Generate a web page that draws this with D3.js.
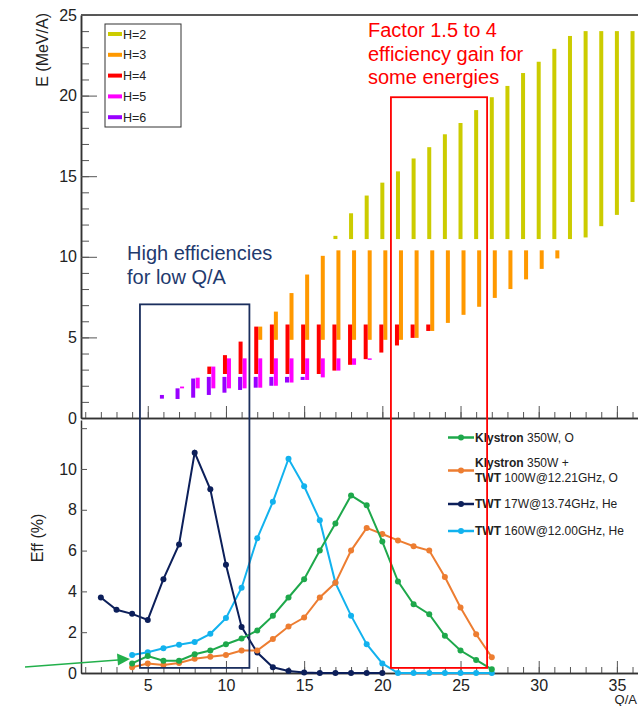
<!DOCTYPE html>
<html>
<head>
<meta charset="utf-8">
<script src="https://cdn.jsdelivr.net/npm/d3@7"></script>
<style>
  body { margin: 0; background: #fff; }
  svg { display: block; font-family: 'Liberation Sans', Arial, sans-serif; }
</style>
</head>
<body>
<div id="viz"></div>
<script>
const width = 638;
const height = 706;
const plotLeft = 81;
const plotRight = 638;

// Top panel: energy ranges (MeV/A) per charge state Q, one set per harmonic
const h2Q  = [17, 18, 19, 20, 21, 22, 23, 24, 25, 26, 27, 28, 29, 30, 31, 32, 33, 34, 35, 36];
const h2Lo = [11.1, 11.1, 11.1, 11.1, 11.1, 11.1, 11.1, 11.1, 11.1, 11.1, 11.1, 11.1, 11.1, 11.1, 11.1, 11.1, 11.2, 11.9, 12.6, 13.4];
const h2Hi = [11.3, 12.7, 13.8, 14.6, 15.3, 16.1, 16.8, 17.6, 18.3, 19.1, 19.9, 20.6, 21.4, 22.1, 22.9, 23.7, 24.0, 24.0, 24.0, 24.0];

const h3Q  = [12, 13, 14, 15, 16, 17, 18, 19, 20, 21, 22, 23, 24, 25, 26, 27, 28, 29, 30, 31];
const h3Lo = [4.85, 4.85, 4.85, 4.85, 4.85, 4.85, 4.85, 4.85, 4.85, 4.85, 4.97, 5.4, 5.9, 6.4, 6.9, 7.45, 8.0, 8.6, 9.25, 9.9];
const h3Hi = [5.67, 6.6, 7.75, 8.9, 10.06, 10.4, 10.4, 10.4, 10.4, 10.4, 10.4, 10.4, 10.4, 10.4, 10.4, 10.4, 10.4, 10.4, 10.4, 10.4];

const h4Q  = [9, 10, 11, 12, 13, 14, 15, 16, 17, 18, 19, 20, 21, 22, 23];
const h4Lo = [2.73, 2.73, 2.73, 2.73, 2.73, 2.73, 2.73, 2.73, 2.94, 3.3, 3.65, 4.06, 4.5, 4.97, 5.4];
const h4Hi = [3.19, 3.9, 4.74, 5.67, 5.8, 5.8, 5.8, 5.8, 5.8, 5.8, 5.8, 5.8, 5.8, 5.8, 5.8];

const h5Q  = [7, 8, 9, 10, 11, 12, 13, 14, 15, 16, 17, 18, 19];
const h5Lo = [1.84, 1.84, 1.84, 1.84, 1.84, 1.88, 2.0, 2.2, 2.36, 2.52, 2.94, 3.3, 3.62];
const h5Hi = [1.95, 2.5, 3.19, 3.7, 3.7, 3.7, 3.7, 3.7, 3.7, 3.7, 3.7, 3.7, 3.7];

const h6Q  = [6, 7, 8, 9, 10, 11, 12, 13, 14, 15];
const h6Lo = [1.2, 1.18, 1.26, 1.43, 1.57, 1.74, 1.88, 2.0, 2.2, 2.36];
const h6Hi = [1.43, 1.84, 2.45, 2.55, 2.55, 2.55, 2.55, 2.55, 2.55, 2.55];

// Bottom panel: efficiency (%) per Q
const twt17Q = [2, 3, 4, 5, 6, 7, 8, 9, 10, 11, 12, 13, 14, 15, 16, 17, 18, 19, 20];
const twt17Eff = [3.7, 3.1, 2.9, 2.6, 4.6, 6.3, 10.8, 9.0, 5.3, 2.26, 1.0, 0.28, 0.1, 0.03, 0, 0, 0, 0, 0];

const effQ = [4, 5, 6, 7, 8, 9, 10, 11, 12, 13, 14, 15, 16, 17, 18, 19, 20, 21, 22, 23, 24, 25, 26, 27];
const klystronEff = [0.47, 0.83, 0.6, 0.6, 0.92, 1.1, 1.41, 1.69, 2.08, 2.8, 3.7, 4.6, 6.0, 7.33, 8.7, 8.22, 6.44, 4.49, 3.37, 2.88, 1.82, 1.1, 0.64, 0.18];
const klyTwtEff = [0.28, 0.47, 0.39, 0.49, 0.7, 0.8, 0.88, 1.1, 1.1, 1.67, 2.28, 2.72, 3.7, 4.42, 6.0, 7.11, 6.81, 6.5, 6.21, 6.0, 4.7, 3.21, 1.9, 0.77];
const twt160Eff = [0.88, 1.02, 1.21, 1.39, 1.52, 1.92, 2.69, 4.18, 6.6, 8.39, 10.5, 9.15, 7.49, 4.42, 2.81, 1.41, 0.47, 0, 0, 0, 0, 0, 0, 0];

const topYTicks = [0, 5, 10, 15, 20, 25];
const botYTicks = [0, 2, 4, 6, 8, 10];
const xTicks = [5, 10, 15, 20, 25, 30, 35];

const svg = d3
  .select('#viz')
  .append('svg')
  .attr('width', width)
  .attr('height', height);

const xScale = d3.scaleLinear().domain([0.73, 36.35]).range([plotLeft, plotRight]);
const yTop = d3.scaleLinear().domain([0, 25]).range([418, 15]);
const yBot = d3.scaleLinear().domain([0, 12.4]).range([673, 420]);

const harmonics = [
  { label: 'H=2', color: '#cccc00', dx: 0, q: h2Q, lo: h2Lo, hi: h2Hi },
  { label: 'H=3', color: '#ff9900', dx: 3, q: h3Q, lo: h3Lo, hi: h3Hi },
  { label: 'H=4', color: '#ff0000', dx: -1, q: h4Q, lo: h4Lo, hi: h4Hi },
  { label: 'H=5', color: '#ff00ff', dx: 3, q: h5Q, lo: h5Lo, hi: h5Hi },
  { label: 'H=6', color: '#9900ff', dx: -1.5, q: h6Q, lo: h6Lo, hi: h6Hi },
];

// ---- top panel frame and axes
svg.append('line')
  .attr('x1', plotLeft).attr('x2', plotRight)
  .attr('y1', yTop(25)).attr('y2', yTop(25))
  .attr('stroke', '#222').attr('stroke-width', 1.5);

const axisStyle = (g) => {
  g.select('.domain').attr('stroke', '#333').attr('stroke-width', 1.5);
  g.selectAll('.tick line').attr('stroke', '#555');
  g.selectAll('text').attr('font-size', 16).attr('fill', '#222').attr('font-family', null);
};

svg.append('g')
  .attr('transform', `translate(${plotLeft},0)`)
  .call(d3.axisLeft(yTop).tickValues(d3.range(0, 26, 1)).tickSize(-8).tickFormat('').tickSizeOuter(0))
  .call(axisStyle);
svg.append('g')
  .attr('transform', `translate(${plotLeft},0)`)
  .call(d3.axisLeft(yTop).tickValues(topYTicks).tickSize(-16).tickPadding(4).tickSizeOuter(0))
  .call(axisStyle);

svg.append('g')
  .attr('transform', `translate(0,${yTop(0)})`)
  .call(d3.axisBottom(xScale).tickValues(d3.range(1, 37)).tickSize(-6).tickFormat('').tickSizeOuter(0))
  .call(axisStyle);
svg.append('g')
  .attr('transform', `translate(0,${yTop(0)})`)
  .call(d3.axisBottom(xScale).tickValues(xTicks).tickSize(-12).tickFormat('').tickSizeOuter(0))
  .call(axisStyle);

svg.append('text')
  .attr('transform', `translate(48,13) rotate(-90)`)
  .attr('text-anchor', 'end')
  .attr('font-size', 16)
  .attr('fill', '#222')
  .text('E (MeV/A)');

// energy range bars
harmonics.forEach((h) => {
  const rows = h.q.map((q, i) => ({ q, lo: h.lo[i], hi: h.hi[i] }));
  svg.append('g')
    .selectAll('rect')
    .data(rows)
    .enter()
    .append('rect')
    .attr('x', (d) => xScale(d.q) + h.dx - 2)
    .attr('width', 4)
    .attr('y', (d) => yTop(d.hi))
    .attr('height', (d) => Math.max(1.5, yTop(d.lo) - yTop(d.hi)))
    .attr('fill', h.color);
});

// harmonic legend
const hLegend = svg.append('g');
hLegend.append('rect')
  .attr('x', 105).attr('y', 24).attr('width', 76).attr('height', 103)
  .attr('fill', '#fff').attr('stroke', '#333').attr('stroke-width', 1);
harmonics.forEach((h, i) => {
  const y = 34 + i * 20.8;
  hLegend.append('line')
    .attr('x1', 108).attr('x2', 122).attr('y1', y).attr('y2', y)
    .attr('stroke', h.color).attr('stroke-width', 4);
  hLegend.append('text')
    .attr('x', 123).attr('y', y + 4.5)
    .attr('font-size', 12.5).attr('fill', '#222')
    .text(h.label);
});

// ---- bottom panel axes
svg.append('g')
  .attr('transform', `translate(${plotLeft},0)`)
  .call(d3.axisLeft(yBot).tickValues([0, 2, 4, 6, 8, 10, 12]).tickSize(-6).tickPadding(4).tickSizeOuter(0)
    .tickFormat((d) => (botYTicks.includes(d) ? d : '')))
  .call(axisStyle);

svg.append('g')
  .attr('transform', `translate(0,${yBot(0)})`)
  .call(d3.axisBottom(xScale).tickValues(d3.range(1, 37)).tickSize(-6).tickFormat('').tickSizeOuter(0))
  .call(axisStyle);
svg.append('g')
  .attr('transform', `translate(0,${yBot(0)})`)
  .call(d3.axisBottom(xScale).tickValues(xTicks).tickSize(-12).tickPadding(7).tickSizeOuter(0))
  .call(axisStyle);

svg.append('text')
  .attr('transform', `translate(43,538) rotate(-90)`)
  .attr('text-anchor', 'middle')
  .attr('font-size', 16)
  .attr('fill', '#222')
  .text('Eff (%)');

svg.append('text')
  .attr('x', 637).attr('y', 704)
  .attr('text-anchor', 'end')
  .attr('font-size', 13).attr('fill', '#222')
  .text('Q/A');

const series = [
  { bold: 'TWT', rest: ' 160W@12.00GHz, He', color: '#12b2ee', q: effQ, v: twt160Eff },
  { bold: 'TWT', rest: ' 17W@13.74GHz, He', color: '#0c1f5a', q: twt17Q, v: twt17Eff },
  { bold: 'Klystron', rest: ' 350W +', bold2: 'TWT', rest2: ' 100W@12.21GHz, O', color: '#ed7d31', q: effQ, v: klyTwtEff },
  { bold: 'Klystron', rest: ' 350W, O', color: '#1ea84b', q: effQ, v: klystronEff },
];

const line = d3.line().x((d) => xScale(d.q)).y((d) => yBot(d.v));

series.forEach((s) => {
  const pts = s.q.map((q, i) => ({ q, v: s.v[i] }));
  const g = svg.append('g');
  g.append('path')
    .datum(pts)
    .attr('d', line)
    .attr('fill', 'none')
    .attr('stroke', s.color)
    .attr('stroke-width', 2);
  g.selectAll('circle')
    .data(pts)
    .enter()
    .append('circle')
    .attr('cx', (d) => xScale(d.q))
    .attr('cy', (d) => yBot(d.v))
    .attr('r', 3)
    .attr('fill', s.color);
});

// efficiency legend
const legendRows = [
  { s: series[3], y: 437.5 },
  { s: series[2], y: 470.5 },
  { s: series[1], y: 504 },
  { s: series[0], y: 531 },
];
legendRows.forEach(({ s, y }) => {
  svg.append('line')
    .attr('x1', 448).attr('x2', 474).attr('y1', y).attr('y2', y)
    .attr('stroke', s.color).attr('stroke-width', 2.5);
  svg.append('circle')
    .attr('cx', 461).attr('cy', y).attr('r', 3).attr('fill', s.color);
  const lines = s.bold2 ? [[s.bold, s.rest, y - 8], [s.bold2, s.rest2, y + 7.5]] : [[s.bold, s.rest, y]];
  lines.forEach(([b, r, ty]) => {
    const t = svg.append('text')
      .attr('x', 475).attr('y', ty + 4.3)
      .attr('font-size', 12).attr('fill', '#222');
    t.append('tspan').attr('font-weight', 'bold').text(b);
    t.append('tspan').text(r);
  });
});

// ---- annotations
svg.append('rect')
  .attr('x', xScale(4.5)).attr('y', yTop(7.05))
  .attr('width', xScale(11.5) - xScale(4.5))
  .attr('height', yBot(0.25) - yTop(7.05))
  .attr('fill', 'none').attr('stroke', '#1b2f5e').attr('stroke-width', 1.8);

svg.append('rect')
  .attr('x', xScale(20.55)).attr('y', yTop(19.9))
  .attr('width', xScale(26.7) - xScale(20.55))
  .attr('height', yBot(0.25) - yTop(19.9))
  .attr('fill', 'none').attr('stroke', '#ff0000').attr('stroke-width', 1.8);

const redNote = ['Factor 1.5 to 4', 'efficiency gain for', 'some energies'];
svg.append('g')
  .selectAll('text')
  .data(redNote)
  .enter()
  .append('text')
  .attr('x', 368)
  .attr('y', (d, i) => 37 + i * 23.5)
  .attr('font-size', 20)
  .attr('fill', '#ff0000')
  .text((d) => d);

const blueNote = ['High efficiencies', 'for low Q/A'];
svg.append('g')
  .selectAll('text')
  .data(blueNote)
  .enter()
  .append('text')
  .attr('x', 127)
  .attr('y', (d, i) => 260 + i * 24)
  .attr('font-size', 20)
  .attr('fill', '#1f3a6e')
  .text((d) => d);

// green arrow pointing at the low-Q klystron points
svg.append('line')
  .attr('x1', 25).attr('y1', 667).attr('x2', 118).attr('y2', 660)
  .attr('stroke', '#22b04b').attr('stroke-width', 1.6);
svg.append('path')
  .attr('d', 'M130,659 L117,653.5 L118,665.5 Z')
  .attr('fill', '#22b04b');
</script>
</body>
</html>
